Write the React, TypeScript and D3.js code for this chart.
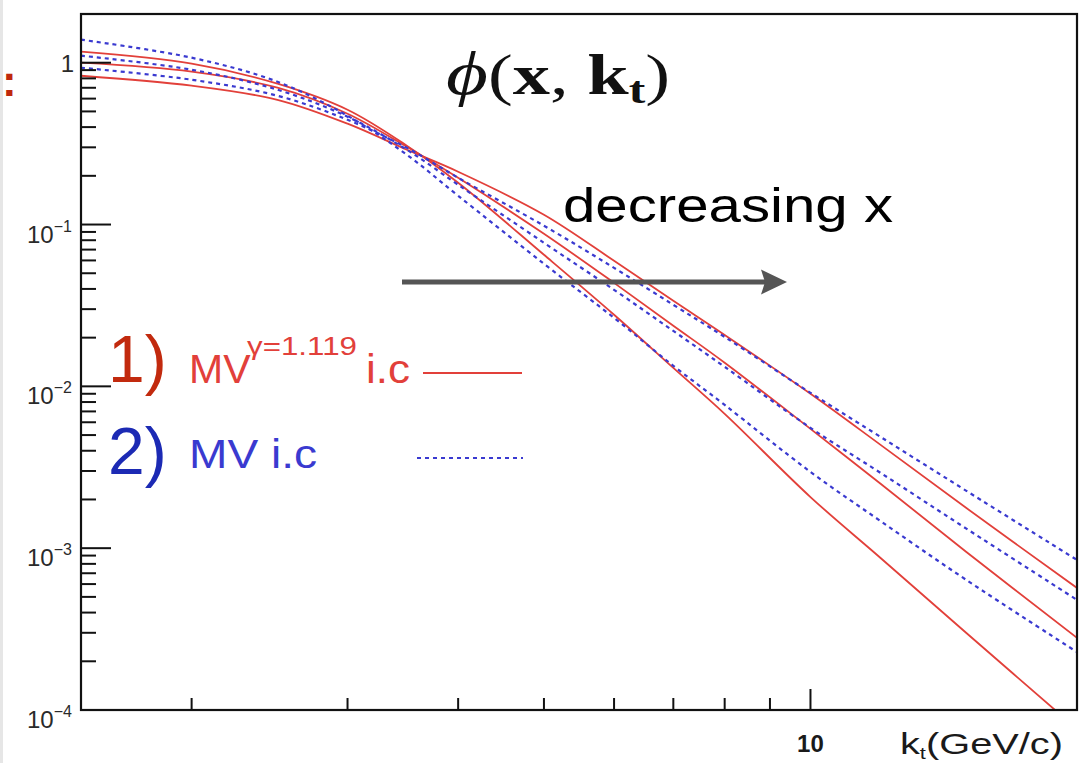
import { useRef, useEffect } from 'react';
import * as d3 from 'd3';

const WIDTH = 1083;
const HEIGHT = 763;

// k_t grid (GeV/c)
const KT = [1.5, 2, 2.5, 3, 3.5, 4, 5, 6, 7, 8, 10, 12, 15, 20];

// 1) MV^{gamma=1.119} i.c (solid red), three rapidities
const MVG_A = [1.17, 0.986, 0.742, 0.512, 0.307, 0.1812, 0.065, 0.0277, 0.013, 0.00676, 0.00207, 0.00087, 0.000299, 0.0000763];
const MVG_B = [1.0, 0.88, 0.701, 0.484, 0.3024, 0.1945, 0.0877, 0.0436, 0.0237, 0.014, 0.00546, 0.0025, 0.000948, 0.000279];
const MVG_C = [0.831, 0.721, 0.59, 0.42, 0.29, 0.212, 0.115, 0.0597, 0.0338, 0.0208, 0.009, 0.00435, 0.00177, 0.000568];

// 2) MV i.c (dashed blue)
const MV_A = [1.388, 1.074, 0.763, 0.47, 0.27, 0.1506, 0.0572, 0.0265, 0.0134, 0.00768, 0.00296, 0.00147, 0.000636, 0.000228];
const MV_B = [1.105, 0.905, 0.681, 0.464, 0.29, 0.176, 0.0771, 0.0395, 0.022, 0.0132, 0.00554, 0.00292, 0.00132, 0.000479];
const MV_C = [0.931, 0.785, 0.625, 0.444, 0.298, 0.1945, 0.0983, 0.054, 0.0319, 0.0202, 0.00912, 0.00487, 0.00226, 0.000846];

const Y_EXPONENTS = [-4, -3, -2, -1, 0];
const Y_MINOR_DIGITS = [2, 3, 4, 5, 6, 7, 8, 9];
const X_MINOR = [2, 3, 4, 5, 6, 7, 8, 9];
const X_MAJOR = [10];

const RED = '#e2403a';
const BLUE = '#3a3ad0';
const SANS = 'Liberation Sans, Arial, sans-serif';

export default function App() {
  const svgRef = useRef(null);

  useEffect(() => {
    document.body.style.margin = '0';
    const svg = d3.select(svgRef.current);
    svg.selectAll('*').remove();

    const x = d3.scaleLog().domain([1.5, 20]).range([81, 1077]);
    const y = d3.scaleLog().domain([1e-4, 2]).range([710, 14]);
    const [x0, x1] = x.range();
    const [yb, yt] = y.range();

    svg.append('rect').attr('width', WIDTH).attr('height', HEIGHT).attr('fill', '#fff');
    svg.append('rect').attr('width', 3).attr('height', HEIGHT).attr('fill', '#e6e6e6');

    // slide remnant on the left
    svg.append('text')
      .attr('x', 2).attr('y', 96)
      .attr('font-family', SANS)
      .attr('font-size', 44).attr('font-weight', 700)
      .attr('fill', '#c0280c')
      .text(':');

    svg.append('clipPath').attr('id', 'plot-clip')
      .append('rect').attr('x', x0).attr('y', yt).attr('width', x1 - x0).attr('height', yb - yt);

    const line = d3.line()
      .x(d => x(d[0]))
      .y(d => y(d[1]))
      .curve(d3.curveCatmullRom.alpha(0.5));

    const plot = svg.append('g').attr('clip-path', 'url(#plot-clip)').attr('fill', 'none');

    [MVG_A, MVG_B, MVG_C].forEach(series => {
      plot.append('path')
        .datum(KT.map((k, i) => [k, series[i]]))
        .attr('d', line)
        .attr('stroke', RED)
        .attr('stroke-width', 1.8);
    });
    [MV_A, MV_B, MV_C].forEach(series => {
      plot.append('path')
        .datum(KT.map((k, i) => [k, series[i]]))
        .attr('d', line)
        .attr('stroke', BLUE)
        .attr('stroke-width', 2.2)
        .attr('stroke-dasharray', '4,4');
    });

    // frame
    svg.append('rect')
      .attr('x', x0).attr('y', yt).attr('width', x1 - x0).attr('height', yb - yt)
      .attr('fill', 'none').attr('stroke', '#111').attr('stroke-width', 2.2);

    // y ticks
    const yMinor = Y_EXPONENTS.slice(0, -1).flatMap(e => Y_MINOR_DIGITS.map(d => d * Math.pow(10, e)));
    svg.append('g').selectAll('line').data(yMinor).join('line')
      .attr('x1', x0).attr('x2', x0 + 15)
      .attr('y1', d => y(d)).attr('y2', d => y(d))
      .attr('stroke', '#111').attr('stroke-width', 2);
    svg.append('g').selectAll('line').data(Y_EXPONENTS).join('line')
      .attr('x1', x0).attr('x2', x0 + 30)
      .attr('y1', e => y(Math.pow(10, e))).attr('y2', e => y(Math.pow(10, e)))
      .attr('stroke', '#111').attr('stroke-width', 2);

    const yLabels = svg.append('g')
      .attr('font-family', SANS)
      .attr('fill', '#2a2a2a');
    Y_EXPONENTS.forEach(e => {
      const ty = y(Math.pow(10, e));
      if (e === 0) {
        yLabels.append('text')
          .attr('x', 74).attr('y', ty + 9)
          .attr('text-anchor', 'end')
          .attr('font-size', 24)
          .text('1');
        return;
      }
      const t = yLabels.append('text')
        .attr('x', 27).attr('y', ty + 18)
        .attr('font-size', 24);
      t.append('tspan').text('10');
      t.append('tspan').attr('font-size', 16).attr('dy', -11).text(`\u2212${-e}`);
    });

    // x ticks
    svg.append('g').selectAll('line').data(X_MINOR).join('line')
      .attr('x1', d => x(d)).attr('x2', d => x(d))
      .attr('y1', yb).attr('y2', yb - 12)
      .attr('stroke', '#111').attr('stroke-width', 2);
    svg.append('g').selectAll('line').data(X_MAJOR).join('line')
      .attr('x1', d => x(d)).attr('x2', d => x(d))
      .attr('y1', yb).attr('y2', yb - 21)
      .attr('stroke', '#111').attr('stroke-width', 2);
    svg.append('g').selectAll('text').data(X_MAJOR).join('text')
      .attr('x', d => x(d)).attr('y', 752)
      .attr('text-anchor', 'middle')
      .attr('font-family', SANS)
      .attr('font-size', 24).attr('font-weight', 700)
      .attr('fill', '#1a1a1a')
      .text(d => d);

    const xTitle = svg.append('text')
      .attr('x', 900).attr('y', 754)
      .attr('font-family', SANS)
      .attr('font-size', 29)
      .attr('fill', '#1a1a1a')
      .attr('textLength', 163).attr('lengthAdjust', 'spacingAndGlyphs');
    xTitle.append('tspan').text('k');
    xTitle.append('tspan').attr('font-size', 16).attr('dy', 5).text('t');
    xTitle.append('tspan').attr('dy', -5).text('(GeV/c)');

    // title phi(x, k_t)
    const title = svg.append('text')
      .attr('x', 446).attr('y', 94)
      .attr('font-family', 'Liberation Serif, DejaVu Serif, serif')
      .attr('font-size', 57)
      .attr('fill', '#111')
      .attr('textLength', 224).attr('lengthAdjust', 'spacingAndGlyphs');
    title.append('tspan').attr('font-style', 'italic').attr('font-size', 62).text('\u03D5');
    title.append('tspan').text('(');
    title.append('tspan').attr('font-weight', 700).text('x');
    title.append('tspan').text(', ');
    title.append('tspan').attr('font-weight', 700).text('k');
    title.append('tspan').attr('font-weight', 700).attr('font-size', 38).attr('dy', 9).text('t');
    title.append('tspan').attr('dy', -9).text(')');

    svg.append('text')
      .attr('x', 563).attr('y', 222)
      .attr('font-family', SANS)
      .attr('font-size', 48)
      .attr('fill', '#000')
      .attr('textLength', 330).attr('lengthAdjust', 'spacingAndGlyphs')
      .text('decreasing x');

    // arrow
    svg.append('line')
      .attr('x1', 402).attr('x2', 766).attr('y1', 282).attr('y2', 282)
      .attr('stroke', '#555').attr('stroke-width', 5);
    svg.append('path')
      .attr('d', 'M787,282 L761,269.5 L765,282 L761,294.5 Z')
      .attr('fill', '#555');

    // legend
    const legend = svg.append('g').attr('font-family', SANS);
    legend.append('text')
      .attr('x', 108).attr('y', 382)
      .attr('font-size', 66).attr('fill', '#c22a0e')
      .text('1)');
    legend.append('text')
      .attr('x', 189).attr('y', 383)
      .attr('font-size', 41).attr('fill', RED)
      .text('MV');
    legend.append('text')
      .attr('x', 247).attr('y', 355)
      .attr('font-size', 26).attr('fill', RED)
      .attr('textLength', 110).attr('lengthAdjust', 'spacingAndGlyphs')
      .text('\u03B3=1.119');
    legend.append('text')
      .attr('x', 366).attr('y', 383)
      .attr('font-size', 41).attr('fill', RED)
      .attr('textLength', 44).attr('lengthAdjust', 'spacingAndGlyphs')
      .text('i.c');
    legend.append('line')
      .attr('x1', 423).attr('x2', 522).attr('y1', 373).attr('y2', 373)
      .attr('stroke', RED).attr('stroke-width', 2);

    legend.append('text')
      .attr('x', 108).attr('y', 474)
      .attr('font-size', 66).attr('fill', '#1c2ab4')
      .text('2)');
    legend.append('text')
      .attr('x', 189).attr('y', 468)
      .attr('font-size', 41).attr('fill', BLUE)
      .attr('textLength', 128).attr('lengthAdjust', 'spacingAndGlyphs')
      .text('MV i.c');
    legend.append('line')
      .attr('x1', 417).attr('x2', 523).attr('y1', 458).attr('y2', 458)
      .attr('stroke', BLUE).attr('stroke-width', 2.2).attr('stroke-dasharray', '4,4');
  }, []);

  return (
    <svg ref={svgRef} width={WIDTH} height={HEIGHT} style={{ display: 'block' }} />
  );
}
